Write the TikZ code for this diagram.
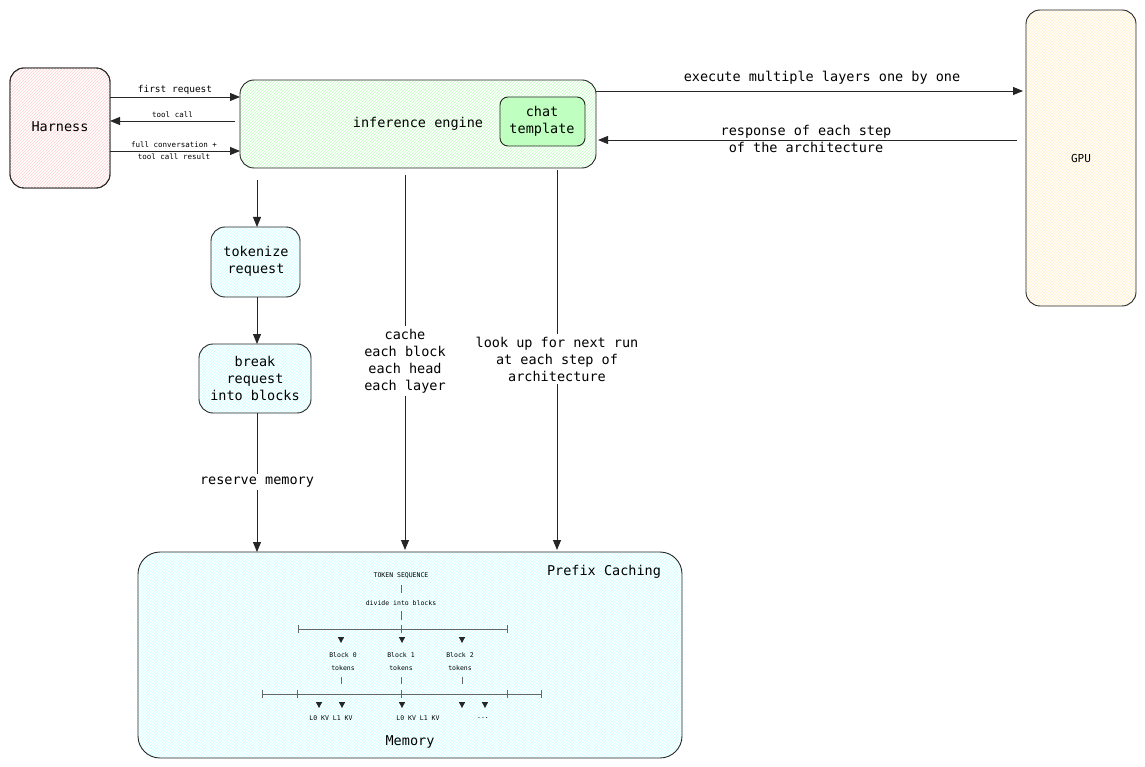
\documentclass[tikz,border=0pt]{standalone}
\usepackage{fontspec}
\setmainfont{DejaVu Sans Mono}
\usetikzlibrary{patterns,arrows.meta}
\tikzset{
 box/.style={draw=black!85,line width=0.9pt,rounded corners=14pt},
 arr/.style={draw=black!85,line width=0.9pt,-{Triangle[length=10pt,width=8pt]}},
 lab/.style={font=\fontsize{13.5}{17}\selectfont,align=center},
 slab/.style={font=\fontsize{9.5}{11}\selectfont,align=center},
 tiny/.style={font=\fontsize{6.5}{8}\selectfont,align=center,inner sep=0pt},
 thinl/.style={draw=black!60,line width=0.6pt},
}
\newcommand{\mytri}[2]{\fill[black!85] ({#1-3.2},{#2-3}) -- ({#1+3.2},{#2-3}) -- ({#1},{#2+3}) -- cycle;}
\begin{document}
\begin{tikzpicture}[x=1pt,y=-1pt]
\useasboundingbox (0,0) rectangle (1145,767);
% boxes
\path[box,fill=white] (10,68) rectangle (110,188);
\path[pattern=north east lines,pattern color=red!18,rounded corners=14pt] (10,68) rectangle (110,188);
\draw[box] (10,68) rectangle (110,188);
\node[lab] (h) at (60,127) {Harness};
\path[pattern=north east lines,pattern color=green!25,rounded corners=14pt] (240,80) rectangle (596,168);
\draw[box] (240,80) rectangle (596,168);
\node[lab] (ie) at (418,124) {inference engine};
\path[box,fill=green!25!white,rounded corners=8pt] (500,97) rectangle (585,146);
\node[lab] (ct) at (542,121) {chat\\template};
\path[pattern=north east lines,pattern color=yellow!40!orange!25,rounded corners=14pt] (1026,10) rectangle (1136,306);
\draw[box] (1026,10) rectangle (1136,306);
\node[slab,font=\fontsize{11}{13}\selectfont] (gpu) at (1081,158) {GPU};
\path[pattern=north east lines,pattern color=cyan!22,rounded corners=14pt] (211,227) rectangle (300,297);
\draw[box] (211,227) rectangle (300,297);
\node[lab] (tok) at (256,261) {tokenize\\request};
\path[pattern=north east lines,pattern color=cyan!22,rounded corners=14pt] (199,344) rectangle (311,413);
\draw[box] (199,344) rectangle (311,413);
\node[lab] (brk) at (255,378) {break\\request\\into blocks};
\path[pattern=north east lines,pattern color=cyan!22,rounded corners=22pt] (138,552) rectangle (682,758);
\draw[box,rounded corners=22pt] (138,552) rectangle (682,758);
\node[lab] (pc) at (604,572) {Prefix Caching};
\node[lab] (mem) at (410,742) {Memory};
% arrows harness
\coordinate (a1) at (110,97); \coordinate (b1) at (240,97);
\draw[arr] (a1) -- node[slab,above=-1pt] {first request} (b1);
\coordinate (a2) at (235,121); \coordinate (b2) at (110,121);
\draw[arr] (a2) -- node[slab,above,font=\fontsize{7.5}{9}\selectfont] {tool call} (b2);
\coordinate (a3) at (110,151); \coordinate (b3) at (240,151);
\draw[arr] (a3) -- (b3);
\node[font=\fontsize{7.5}{9}\selectfont] at (174,145) {full conversation +};
\node[font=\fontsize{7.5}{9}\selectfont] at (174,157) {tool call result};
% gpu
\coordinate (a4) at (596,91); \coordinate (b4) at (1023,91);
\draw[arr] (a4) -- (b4);
\node[lab] at (822,78) {execute multiple layers one by one};
\coordinate (a5) at (1017,140); \coordinate (b5) at (598,140);
\draw[arr] (a5) -- (b5);
\node[lab] at (806,139) {response of each step\\of the architecture};
% vertical
\coordinate (v1) at (257,180); \coordinate (v1b) at (257,227);
\draw[arr] (v1) -- (v1b);
\coordinate (v2) at (257,297); \coordinate (v2b) at (257,344);
\draw[arr] (v2) -- (v2b);
\coordinate (v3) at (257,413); \coordinate (v3b) at (257,552);
\draw[arr] (v3) -- (v3b);
\node[lab,fill=white,inner sep=3pt] at (257,482) {reserve memory};
\coordinate (v4) at (405,175); \coordinate (v4b) at (405,550);
\draw[arr] (v4) -- (v4b);
\node[lab,fill=white,inner sep=3pt] at (405,361) {cache\\each block\\each head\\each layer};
\coordinate (v5) at (557,170); \coordinate (v5b) at (557,550);
\draw[arr] (v5) -- (v5b);
\node[lab,fill=white,inner sep=3pt] at (557,359) {look up for next run\\at each step of\\architecture};
% memory content
\node[tiny] at (401,576) {TOKEN SEQUENCE};
\draw[thinl] (401,585) -- (401,593);
\node[tiny] at (401,603) {divide into blocks};
\draw[thinl] (401,611) -- (401,620);
\draw[thinl] (298,629) -- (507,629);
\draw[thinl] (298,625) -- (298,633);
\draw[thinl] (401,625) -- (401,633);
\draw[thinl] (507,625) -- (507,633);
\mytri{341}{640}
\mytri{402}{640}
\mytri{462}{640}
\node[tiny] at (343,655) {Block 0}; \node[tiny] at (343,668) {tokens};
\node[tiny] at (401,655) {Block 1}; \node[tiny] at (401,668) {tokens};
\node[tiny] at (460,655) {Block 2}; \node[tiny] at (460,668) {tokens};
\draw[thinl] (341,677) -- (341,684);
\draw[thinl] (401,677) -- (401,684);
\draw[thinl] (462,677) -- (462,684);
\draw[thinl] (262,694) -- (541,694);
\draw[thinl] (262,690) -- (262,698);
\draw[thinl] (297,690) -- (297,698);
\draw[thinl] (401,690) -- (401,698);
\draw[thinl] (507,690) -- (507,698);
\draw[thinl] (541,690) -- (541,698);
\mytri{319}{705}
\mytri{342}{705}
\mytri{402}{705}
\mytri{462}{705}
\mytri{485}{705}
\node[tiny] at (331,718) {L0 KV L1 KV};
\node[tiny] at (418,718) {L0 KV L1 KV};
\node[tiny] at (483,718) {...};
\end{tikzpicture}
\end{document}
